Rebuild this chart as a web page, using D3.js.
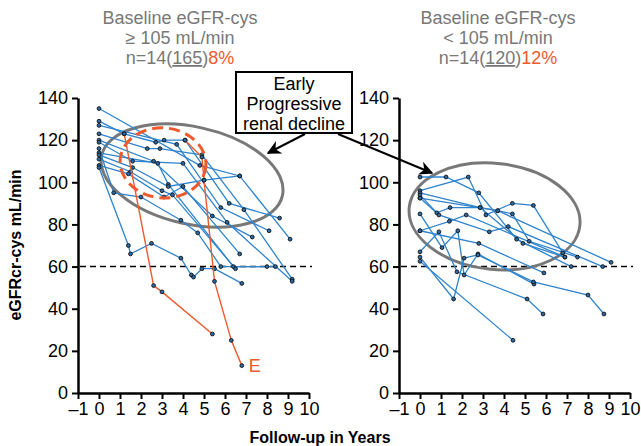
<!DOCTYPE html>
<html>
<head>
<meta charset="utf-8">
<script src="https://cdn.jsdelivr.net/npm/d3@7"></script>
<style>
  body { margin: 0; background: #fff; }
  svg { display: block; font-family: "Liberation Sans", Arial, Helvetica, sans-serif; }
</style>
</head>
<body>
<svg id="chart" width="641" height="446"></svg>
<script>
// ticks
const xTicks = d3.range(-1, 11)
const yTicks = d3.range(0, 141, 20)

// 基线 eGFR-cys >= 105 : each patient [years, eGFR]
const leftPatients = [
  [[0, 135], [4.8, 108], [6.7, 103], [9.1, 73]],
  [[0, 129], [1.2, 123], [2.7, 119], [3.1, 120], [4.1, 120], [6.2, 90], [8.6, 83]],
  [[0, 127], [3.7, 118], [5.8, 88], [8.1, 77]],
  [[0, 123], [2.3, 116], [2.9, 116], [4.9, 113], [6.9, 87], [9.2, 54]],
  [[0, 120], [2.6, 110], [5.4, 84], [7.3, 74]],
  [[0, 119], [1.6, 110], [4.0, 109], [6.1, 81], [9.2, 53]],
  [[0, 116], [0.7, 95], [2.0, 93], [3.9, 82], [4.7, 76], [5.8, 60], [8.0, 60]],
  [[0, 114], [2.8, 109], [3.3, 99], [6.4, 60], [8.4, 60]],
  [[0, 111], [1.5, 105], [3.0, 96], [3.5, 94], [6.5, 59]],
  [[0, 108], [1.4, 104], [3.1, 93], [4.0, 98], [6.7, 66]],
  [[0, 107], [1.4, 70], [1.5, 66], [2.5, 71], [3.9, 64], [4.4, 56], [4.5, 55], [4.9, 59], [5.5, 59], [6.8, 52]],
  [[0, 113], [1.6, 107], [3.3, 98], [5.0, 101], [6.7, 103]]
]
// 进展病例 (orange)
const leftHighlight = [
  [[1.2, 123], [2.6, 51], [3.0, 48], [5.4, 28]],
  [[4.1, 120], [4.9, 112], [5.0, 101], [5.5, 53], [6.3, 25], [6.8, 13]]
]

// 基线 eGFR-cys < 105
const rightPatients = [
  [[0, 102.5], [1.24, 102.5], [2.8, 95], [4.6, 73], [7.2, 60]],
  [[0, 96], [2.3, 102.5], [3.14, 84.5], [4.4, 90], [5.4, 89], [6.8, 66.5]],
  [[0, 95], [2.86, 88], [4.9, 71], [6.9, 64.5]],
  [[0, 94], [0.8, 85.5], [1.43, 88], [2.86, 88], [3.7, 86.5], [4.4, 85], [5.2, 72], [7.5, 64.5]],
  [[0, 92.5], [0.9, 84.5], [3.3, 76.5], [4.2, 79], [8.7, 60]],
  [[0, 92.5], [3.7, 86.5], [9.1, 62]],
  [[0, 85], [1.05, 69], [1.8, 77], [2.1, 56], [2.76, 66], [5.43, 51.7]],
  [[0, 77], [2.8, 71], [5.9, 57]],
  [[0, 67], [0.9, 76.5], [1.76, 57.5], [5.1, 44.6], [5.86, 37.5]],
  [[0, 64.5], [1.6, 44.6], [2.1, 64], [2.76, 65.5], [5.4, 52.7], [8.0, 46.5], [8.76, 37.5]],
  [[0, 62.5], [4.43, 25]],
  [[0, 77], [1.4, 81.5], [2.2, 84.5], [6.9, 64.5]]
]

const titles = [
  { line1: 'Baseline eGFR-cys', line2: '\u2265 105 mL/min', n: 'n=14(', count: '165', pct: '8%' },
  { line1: 'Baseline eGFR-cys', line2: '< 105 mL/min', n: 'n=14(', count: '120', pct: '12%' }
]

const BLUE = '#2f84cc'
const ORANGE = '#ef5a2c'
const GREY = '#787878'

const svg = d3.select('#chart')

svg.append('defs').append('marker')
  .attr('id', 'arrow')
  .attr('viewBox', '0 0 10 10')
  .attr('refX', 9).attr('refY', 5)
  .attr('markerWidth', 7).attr('markerHeight', 7)
  .attr('markerUnits', 'strokeWidth')
  .attr('orient', 'auto')
  .append('path').attr('d', 'M0,0 L10,5 L0,10 L3,5 Z').attr('fill', '#000')

const y = d3.scaleLinear().domain([0, 140]).range([393, 98])
const xLeft = d3.scaleLinear().domain([-1, 10]).range([78, 309])
const xRight = d3.scaleLinear().domain([-1, 10]).range([399, 630])

function drawAxes (x) {
  const g = svg.append('g')
  const ya = g.append('g')
    .attr('transform', `translate(${x(-1)},0)`)
    .call(d3.axisLeft(y).tickValues(yTicks).tickSize(6).tickSizeOuter(0).tickPadding(4))
  const xa = g.append('g')
    .attr('transform', `translate(0,${y(0)})`)
    .call(d3.axisBottom(x).tickValues(xTicks).tickSize(6).tickSizeOuter(0).tickPadding(3)
      .tickFormat(d => d < 0 ? '\u2013' + Math.abs(d) : d))
  for (const a of [ya, xa]) {
    a.select('.domain').attr('stroke', '#000').attr('stroke-width', 2.5)
    a.selectAll('.tick line').attr('stroke', '#000').attr('stroke-width', 2)
    a.selectAll('.tick text').attr('fill', '#000').style('font-size', '18px')
      .style('font-family', '"Liberation Sans", Arial, sans-serif')
  }
  // 60 参考线
  g.append('line')
    .attr('x1', x(-1) + 2).attr('x2', x(10) + 3)
    .attr('y1', y(60)).attr('y2', y(60))
    .attr('stroke', '#000').attr('stroke-width', 1.6)
    .attr('stroke-dasharray', '6,4')
}

function drawPatients (x, list, color) {
  const line = d3.line().x(d => x(d[0])).y(d => y(d[1]))
  const g = svg.append('g')
  g.selectAll('path').data(list).join('path')
    .attr('d', line)
    .attr('fill', 'none')
    .attr('stroke', color)
    .attr('stroke-width', 1.3)
  g.selectAll('circle').data(list.flat()).join('circle')
    .attr('cx', d => x(d[0])).attr('cy', d => y(d[1]))
    .attr('r', 1.9)
    .attr('fill', '#2a6aa6')
    .attr('stroke', '#111')
    .attr('stroke-width', 0.9)
}

function drawEllipse (x, cx, cy, rx, ry, angle, stroke, dash) {
  svg.append('ellipse')
    .attr('transform', `translate(${x(cx)},${y(cy)}) rotate(${angle})`)
    .attr('rx', rx).attr('ry', ry)
    .attr('fill', 'none')
    .attr('stroke', stroke)
    .attr('stroke-width', 3)
    .attr('stroke-dasharray', dash)
}

function drawTitle (cx, t) {
  const g = svg.append('g').attr('fill', GREY).style('font-size', '18px').attr('text-anchor', 'middle')
  g.append('text').attr('x', cx).attr('y', 24).text(t.line1)
  g.append('text').attr('x', cx).attr('y', 44).text(t.line2)
  const l3 = g.append('text').attr('x', cx).attr('y', 64)
  l3.append('tspan').text(t.n)
  l3.append('tspan').attr('text-decoration', 'underline').text(t.count)
  l3.append('tspan').text(')')
  l3.append('tspan').attr('fill', ORANGE).text(t.pct)
}

drawAxes(xLeft)
drawAxes(xRight)

drawEllipse(xLeft, 4.43, 103.2, 92.6, 48.6, 12.5, GREY, null)
drawEllipse(xRight, 3.55, 83.8, 85.8, 53, 6.2, GREY, null)

drawPatients(xLeft, leftPatients, BLUE)
drawPatients(xRight, rightPatients, BLUE)

// orange highlighted lines
const hl = d3.line().x(d => xLeft(d[0])).y(d => y(d[1]))
svg.append('g').selectAll('path').data(leftHighlight).join('path')
  .attr('d', hl).attr('fill', 'none').attr('stroke', ORANGE).attr('stroke-width', 1.4)
svg.append('g').selectAll('circle').data(leftHighlight.flat()).join('circle')
  .attr('cx', d => xLeft(d[0])).attr('cy', d => y(d[1])).attr('r', 1.9)
  .attr('fill', '#2a6aa6').attr('stroke', '#111').attr('stroke-width', 0.9)

drawEllipse(xLeft, 3.05, 109.2, 43, 35, 5, ORANGE, '11,6')

const last = leftHighlight[1][leftHighlight[1].length - 1]
svg.append('text')
  .attr('x', xLeft(last[0]) + 7).attr('y', y(last[1]) + 6)
  .attr('fill', ORANGE).style('font-size', '18px')
  .text('E')

drawTitle(180, titles[0])
drawTitle(498, titles[1])

// annotation box
const box = svg.append('g')
box.append('rect')
  .attr('x', 236).attr('y', 72).attr('width', 116).attr('height', 61)
  .attr('fill', '#fff').attr('stroke', '#000').attr('stroke-width', 2)
const boxLines = ['Early', 'Progressive', 'renal decline']
box.selectAll('text').data(boxLines).join('text')
  .attr('x', 294).attr('y', (d, i) => 90 + i * 20)
  .attr('text-anchor', 'middle')
  .style('font-size', '18px')
  .attr('fill', '#000')
  .text(d => d)

svg.append('line')
  .attr('x1', 305).attr('y1', 134).attr('x2', 268).attr('y2', 153)
  .attr('stroke', '#000').attr('stroke-width', 2).attr('marker-end', 'url(#arrow)')
svg.append('line')
  .attr('x1', 338).attr('y1', 134).attr('x2', 432).attr('y2', 173)
  .attr('stroke', '#000').attr('stroke-width', 2).attr('marker-end', 'url(#arrow)')

// axis titles
svg.append('text')
  .attr('transform', 'translate(21,245) rotate(-90)')
  .attr('text-anchor', 'middle')
  .style('font-size', '16px').style('font-weight', 'bold')
  .text('eGFRcr-cys mL/min')
svg.append('text')
  .attr('x', 320).attr('y', 443)
  .attr('text-anchor', 'middle')
  .style('font-size', '16px').style('font-weight', 'bold')
  .text('Follow-up in Years')
</script>
</body>
</html>
